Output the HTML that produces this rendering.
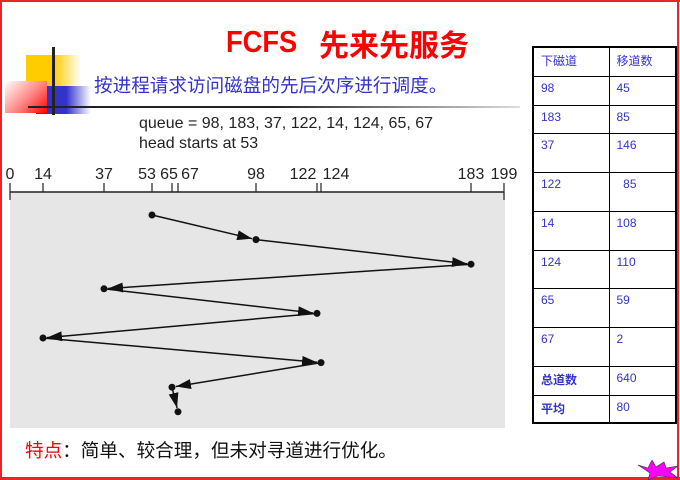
<!DOCTYPE html>
<html><head><meta charset="utf-8">
<style>
html,body{margin:0;padding:0;background:#fff;}
#page{position:relative;width:680px;height:480px;overflow:hidden;font-family:"Liberation Sans","Noto Sans CJK SC",sans-serif;}
.bd{position:absolute;background:#e8262a;}
.title{position:absolute;font-weight:bold;color:#ff0000;white-space:nowrap;}
.sub{position:absolute;left:94px;top:71px;font-size:18.6px;color:#3333cc;white-space:nowrap;}
.q{position:absolute;left:139px;top:114px;font-size:16px;color:#222;line-height:20px;white-space:nowrap;}
.foot{position:absolute;left:25px;top:436px;font-size:18.6px;color:#111;white-space:nowrap;}
table{position:absolute;left:532px;top:46px;border-collapse:collapse;border:2px solid #000;}
td{border:1px solid #000;font-size:12px;color:#3333cc;vertical-align:top;padding:4px 0 0 7px;box-sizing:border-box;}
td.c1{width:76px;}td.c2{width:67px;}
</style></head><body>
<div id="page">
<div class="bd" style="left:0;top:0;width:680px;height:2px"></div>
<div class="bd" style="left:0;top:0;width:2px;height:480px"></div>
<div class="bd" style="left:677px;top:0;width:2px;height:480px"></div>
<div class="bd" style="left:0;top:477px;width:680px;height:3px"></div>

<div style="position:absolute;left:26px;top:55px;width:55px;height:32px;background:linear-gradient(90deg,#ffcc00 50%,#fff)"></div>
<div style="position:absolute;left:36px;top:86px;width:55px;height:28px;background:linear-gradient(90deg,#3333cc 55%,#fff)"></div>
<div style="position:absolute;left:5px;top:81px;width:42px;height:32px;background:linear-gradient(135deg,#fff,#f77 60%,#f00)"></div>
<div style="position:absolute;left:52px;top:47px;width:3px;height:68px;background:#222"></div>
<div style="position:absolute;left:28px;top:106px;width:492px;height:2px;background:linear-gradient(90deg,#222 50%,#ddd)"></div>

<div class="title" style="left:226px;top:24px;font-size:31px;font-family:'Liberation Sans',sans-serif;transform:scaleX(0.88);transform-origin:left top;">FCFS</div>
<div class="title" style="left:319px;top:21px;font-size:30px;font-family:'Noto Sans CJK SC',sans-serif;">先来先服务</div>
<div class="sub">按进程请求访问磁盘的先后次序进行调度。</div>
<div class="q">queue = 98, 183, 37, 122, 14, 124, 65, 67<br>head starts at 53</div>

<svg id="chart" style="position:absolute;left:0;top:0" width="680" height="480"></svg>

<table>
<tr style="height:29px"><td class="c1">下磁道</td><td class="c2">移道数</td></tr>
<tr style="height:29px"><td>98</td><td>45</td></tr>
<tr style="height:28px"><td>183</td><td>85</td></tr>
<tr style="height:39px"><td>37</td><td>146</td></tr>
<tr style="height:39px"><td>122</td><td>&nbsp;&nbsp;85</td></tr>
<tr style="height:39px"><td>14</td><td>108</td></tr>
<tr style="height:38px"><td>124</td><td>110</td></tr>
<tr style="height:39px"><td>65</td><td>59</td></tr>
<tr style="height:39px"><td>67</td><td>2</td></tr>
<tr style="height:29px"><td style="font-weight:bold">总道数</td><td>640</td></tr>
<tr style="height:28px"><td style="font-weight:bold">平均</td><td>80</td></tr>
</table>

<div class="foot"><span style="color:#ff0000">特点</span>：简单、较合理，但未对寻道进行优化。</div>

<svg style="position:absolute;left:638px;top:460px" width="40" height="20"><polygon points="0,5 10,8 14,0 18,7 26,2 28,8 40,6 32,12 40,18 20,16 10,20 12,13" fill="#ff00ff" stroke="#333" stroke-width="0.6"/></svg>
</div>
<script>
const tickValues=[0,14,37,53,65,67,98,122,124,183,199];
const tickLabels=["0","14","37","53","65","67","98","122","124","183","199"];
const tickPx=[10,43,104,152,172,178,256,317,321,471,504];
const labelShift=[0,0,0,-5,-3,12,0,-14,15,0,0];
const headStart=53;
const requests=[98,183,37,122,14,124,65,67];
function xs(v){for(let i=0;i<tickValues.length-1;i++){if(v<=tickValues[i+1]){const a=tickValues[i],b=tickValues[i+1];return tickPx[i]+(v-a)/(b-a)*(tickPx[i+1]-tickPx[i]);}}return tickPx[tickPx.length-1];}
function ys(i){return 215+i*24.6;}
const svg=document.getElementById('chart');const NS='http://www.w3.org/2000/svg';
function mk(t,a){const e=document.createElementNS(NS,t);for(const k in a)e.setAttribute(k,a[k]);svg.appendChild(e);return e;}
const defs=mk('defs',{});
const m=document.createElementNS(NS,'marker');m.setAttribute('id','ar');m.setAttribute('viewBox','0 0 10 10');m.setAttribute('refX','10');m.setAttribute('refY','5');m.setAttribute('markerWidth','15');m.setAttribute('markerHeight','10');m.setAttribute('orient','auto');m.setAttribute('markerUnits','userSpaceOnUse');m.setAttribute('preserveAspectRatio','none');
const mp=document.createElementNS(NS,'path');mp.setAttribute('d','M0,0 L10,5 L0,10 z');mp.setAttribute('fill','#111');m.appendChild(mp);defs.appendChild(m);
let bg=mk('rect',{x:10,y:192,width:495,height:236,fill:'#e6e6e6'});


let ax=mk('line',{x1:10,y1:192,x2:504,y2:192,stroke:'#222','stroke-width':1.5});


tickValues.forEach((v,i)=>{
 const x=xs(v);
 let t=mk('line',{x1:x,y1:183,x2:x,y2:(i==0||i==tickValues.length-1)?200:192,stroke:'#222','stroke-width':1.2});
 
 
 let tx=mk('text',{x:x+labelShift[i],y:179,'font-size':16,'font-family':'Liberation Sans, sans-serif','text-anchor':'middle',fill:'#222'});
 tx.textContent=tickLabels[i];
 
 
});
const seq=[headStart].concat(requests);
for(let i=0;i<seq.length-1;i++){
 const x1=xs(seq[i]),y1=ys(i),x2=xs(seq[i+1]),y2=ys(i+1);
 const dx=x2-x1,dy=y2-y1,L=Math.hypot(dx,dy),s=(L-4)/L;
 let l=mk('line',{x1:x1,y1:y1,x2:x1+dx*s,y2:y1+dy*s,stroke:'#111','stroke-width':1.5,'marker-end':'url(#ar)'});
 
 
}
seq.forEach((v,i)=>{
 let c=mk('circle',{cx:xs(v),cy:ys(i),r:3.5,fill:'#111'});
 
 
});
</script>
</body></html>
